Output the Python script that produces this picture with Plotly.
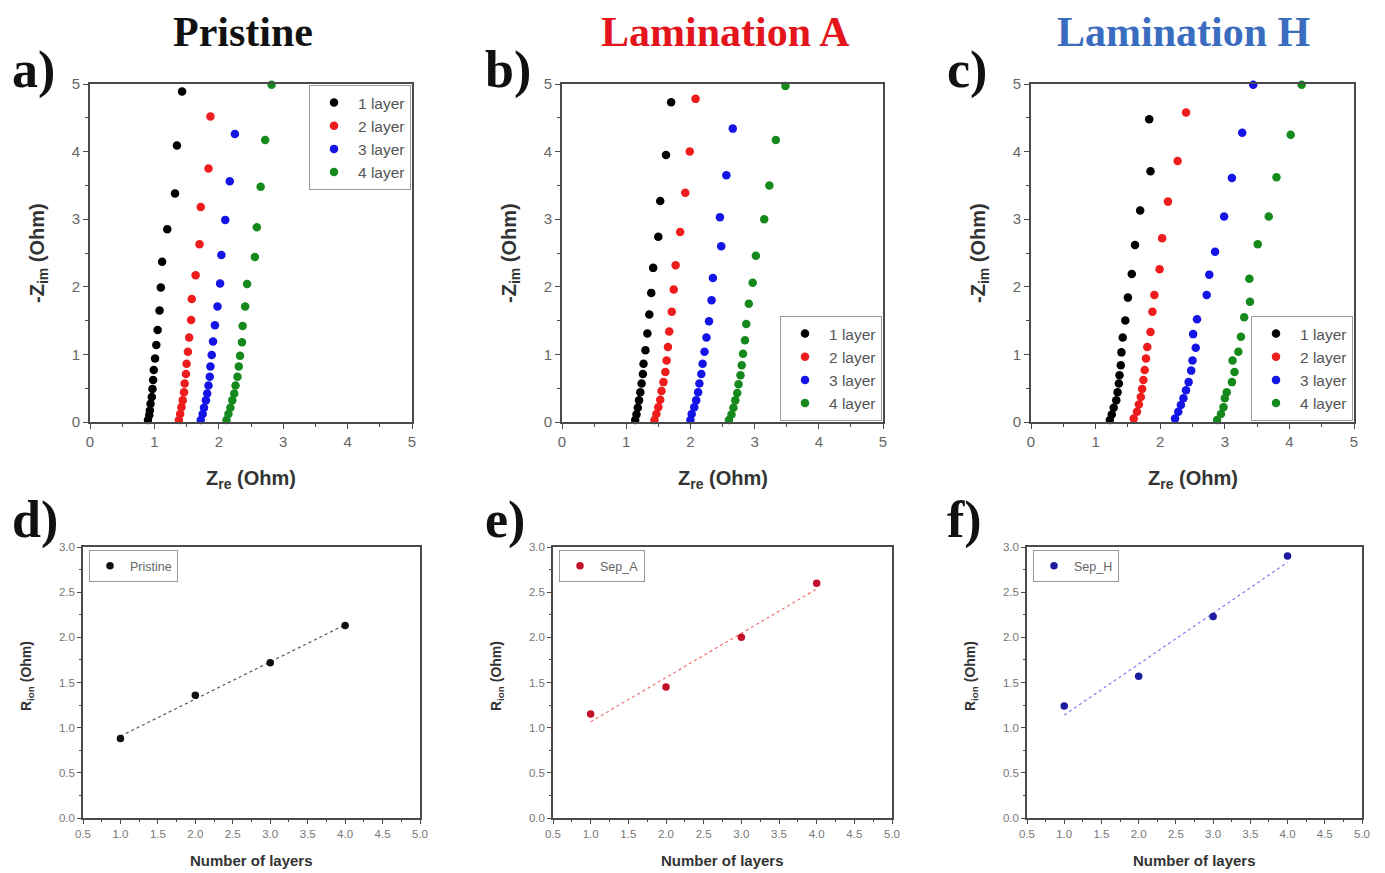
import numpy as np
import plotly.graph_objects as go

# ---------------- data ----------------
LAYER_NAMES = ["1 layer", "2 layer", "3 layer", "4 layer"]
PANEL_TITLES = ["Pristine", "Lamination A", "Lamination H"]

# Panel a) Pristine  (Zre, -Zim)
A1_ZRE = [1.43, 1.35, 1.32, 1.20, 1.12, 1.10, 1.08, 1.05, 1.03, 1.01, 0.99, 0.98, 0.97, 0.96, 0.94, 0.93, 0.92, 0.90]
A1_ZIM = [4.89, 4.09, 3.38, 2.85, 2.37, 1.99, 1.65, 1.36, 1.14, 0.94, 0.77, 0.62, 0.49, 0.37, 0.27, 0.17, 0.10, 0.03]
A2_ZRE = [1.87, 1.84, 1.72, 1.70, 1.64, 1.58, 1.57, 1.54, 1.52, 1.50, 1.49, 1.47, 1.46, 1.44, 1.42, 1.40, 1.38]
A2_ZIM = [4.52, 3.75, 3.18, 2.63, 2.17, 1.82, 1.51, 1.25, 1.04, 0.86, 0.71, 0.57, 0.44, 0.32, 0.22, 0.12, 0.03]
A3_ZRE = [2.25, 2.17, 2.10, 2.04, 2.02, 1.98, 1.94, 1.91, 1.89, 1.87, 1.86, 1.84, 1.82, 1.80, 1.77, 1.75, 1.72]
A3_ZIM = [4.26, 3.56, 2.99, 2.47, 2.05, 1.71, 1.43, 1.19, 0.99, 0.82, 0.67, 0.54, 0.42, 0.32, 0.21, 0.12, 0.03]
A4_ZRE = [2.82, 2.72, 2.65, 2.59, 2.56, 2.44, 2.41, 2.37, 2.36, 2.33, 2.31, 2.29, 2.26, 2.24, 2.21, 2.18, 2.15, 2.12]
A4_ZIM = [4.99, 4.17, 3.48, 2.88, 2.44, 2.04, 1.71, 1.42, 1.18, 0.98, 0.82, 0.67, 0.54, 0.42, 0.32, 0.21, 0.12, 0.03]

# Panel b) Lamination A
B1_ZRE = [1.70, 1.62, 1.53, 1.50, 1.42, 1.39, 1.36, 1.33, 1.30, 1.27, 1.26, 1.24, 1.22, 1.20, 1.18, 1.16, 1.14]
B1_ZIM = [4.73, 3.95, 3.27, 2.74, 2.28, 1.91, 1.59, 1.31, 1.06, 0.86, 0.71, 0.57, 0.44, 0.32, 0.21, 0.11, 0.03]
B2_ZRE = [2.08, 1.99, 1.92, 1.84, 1.77, 1.74, 1.71, 1.67, 1.65, 1.63, 1.61, 1.58, 1.55, 1.53, 1.50, 1.47, 1.44]
B2_ZIM = [4.78, 4.00, 3.39, 2.81, 2.32, 1.96, 1.63, 1.34, 1.11, 0.91, 0.74, 0.59, 0.46, 0.33, 0.22, 0.12, 0.03]
B3_ZRE = [2.66, 2.56, 2.46, 2.48, 2.35, 2.33, 2.29, 2.25, 2.22, 2.19, 2.17, 2.14, 2.12, 2.09, 2.06, 2.02, 2.00]
B3_ZIM = [4.34, 3.65, 3.03, 2.60, 2.13, 1.80, 1.49, 1.25, 1.04, 0.86, 0.71, 0.57, 0.44, 0.32, 0.22, 0.12, 0.03]
B4_ZRE = [3.48, 3.33, 3.23, 3.15, 3.02, 2.97, 2.91, 2.87, 2.85, 2.82, 2.80, 2.78, 2.75, 2.73, 2.70, 2.67, 2.64, 2.60]
B4_ZIM = [4.97, 4.17, 3.50, 3.00, 2.46, 2.06, 1.75, 1.45, 1.21, 1.01, 0.84, 0.69, 0.56, 0.43, 0.32, 0.21, 0.11, 0.03]

# Panel c) Lamination H
C1_ZRE = [1.83, 1.85, 1.69, 1.61, 1.56, 1.50, 1.46, 1.42, 1.40, 1.39, 1.37, 1.36, 1.34, 1.32, 1.28, 1.25, 1.22]
C1_ZIM = [4.48, 3.71, 3.13, 2.62, 2.19, 1.84, 1.50, 1.25, 1.03, 0.84, 0.69, 0.57, 0.44, 0.32, 0.21, 0.11, 0.03]
C2_ZRE = [2.40, 2.27, 2.12, 2.03, 1.99, 1.91, 1.88, 1.85, 1.80, 1.78, 1.76, 1.74, 1.72, 1.70, 1.67, 1.64, 1.59]
C2_ZIM = [4.58, 3.86, 3.26, 2.72, 2.26, 1.88, 1.63, 1.33, 1.11, 0.94, 0.77, 0.62, 0.49, 0.37, 0.26, 0.15, 0.05]
C3_ZRE = [3.44, 3.27, 3.11, 2.99, 2.85, 2.76, 2.72, 2.57, 2.51, 2.55, 2.50, 2.48, 2.44, 2.40, 2.36, 2.32, 2.28, 2.23]
C3_ZIM = [4.99, 4.28, 3.61, 3.04, 2.52, 2.18, 1.88, 1.52, 1.30, 1.10, 0.91, 0.76, 0.59, 0.47, 0.35, 0.25, 0.15, 0.05]
C4_ZRE = [4.19, 4.02, 3.80, 3.68, 3.51, 3.38, 3.39, 3.30, 3.25, 3.21, 3.12, 3.15, 3.11, 3.03, 3.00, 2.98, 2.94, 2.88]
C4_ZIM = [4.99, 4.25, 3.62, 3.04, 2.63, 2.12, 1.78, 1.55, 1.26, 1.04, 0.91, 0.74, 0.59, 0.44, 0.35, 0.22, 0.12, 0.03]

# Bottom panels: R_ion vs number of layers
LAYERS = [1, 2, 3, 4]
R_PRISTINE = [0.88, 1.36, 1.72, 2.13]
R_SEP_A = [1.15, 1.45, 2.00, 2.60]
R_SEP_H = [1.24, 1.57, 2.23, 2.90]
BOTTOM_NAMES = ["Pristine", "Sep_A", "Sep_H"]

# ---------------- styling ----------------
SERIES_COLORS = ["#000000", "#ee1c1c", "#1414e6", "#16891c"]
TITLE_COLORS = ["#111111", "#e3141b", "#3a6cc0"]
BOTTOM_PT_COLORS = ["#111111", "#c4122a", "#1c1c9e"]
BOTTOM_LINE_COLORS = ["#555555", "#f07070", "#7c7cf0"]
AXIS_COL = "#4a4a4a"
TICK_COL = "#666666"
SANS = "Liberation Sans, Arial, sans-serif"
SERIF = "Liberation Serif, Times New Roman, serif"

W, H = 1385, 873
OFF = 8  # page body margin: the figure is drawn 8px right/down of the window corner
def px_x(p):
    return (p - OFF) / W
def px_y(p):
    return 1 - (p - OFF) / H

top_x_dom = [(90, 412), (562, 883), (1031, 1354)]
top_y_dom = (84, 422)
bot_x_dom = [(83, 420), (553, 892), (1027, 1362)]
bot_y_dom = (547, 818)

fig = go.Figure()

top_data = [
    [(A1_ZRE, A1_ZIM), (A2_ZRE, A2_ZIM), (A3_ZRE, A3_ZIM), (A4_ZRE, A4_ZIM)],
    [(B1_ZRE, B1_ZIM), (B2_ZRE, B2_ZIM), (B3_ZRE, B3_ZIM), (B4_ZRE, B4_ZIM)],
    [(C1_ZRE, C1_ZIM), (C2_ZRE, C2_ZIM), (C3_ZRE, C3_ZIM), (C4_ZRE, C4_ZIM)],
]

layout = {}
annotations = []
# top panels: axes 1..3
for p in range(3):
    ax = p + 1
    xa = "x" if ax == 1 else f"x{ax}"
    ya = "y" if ax == 1 else f"y{ax}"
    leg = "legend" if ax == 1 else f"legend{ax}"
    for s, (zre, zim) in enumerate(top_data[p]):
        fig.add_trace(go.Scatter(
            x=zre, y=zim, mode="markers", name=LAYER_NAMES[s],
            marker=dict(color=SERIES_COLORS[s], size=8.5, symbol="circle"),
            xaxis=xa, yaxis=ya, legend=leg, cliponaxis=False,
        ))
    x0, x1 = top_x_dom[p]
    common = dict(showline=True, linecolor=AXIS_COL, linewidth=1.6, mirror=True,
                  ticks="outside", ticklen=5, tickwidth=1.3, tickcolor=AXIS_COL,
                  showgrid=False, zeroline=False, automargin=False,
                  tickfont=dict(family=SANS, size=15, color=TICK_COL),
                  minor=dict(ticks="outside", ticklen=3, tickcolor=AXIS_COL, dtick=0.5, showgrid=False))
    layout[f"xaxis{'' if ax == 1 else ax}"] = dict(
        common, domain=[px_x(x0), px_x(x1)], range=[0, 5], dtick=1, anchor=ya,
    )
    layout[f"yaxis{'' if ax == 1 else ax}"] = dict(
        common, domain=[px_y(top_y_dom[1]), px_y(top_y_dom[0])], range=[0, 5], dtick=1, anchor=xa,
    )
    # axis titles as annotations for precise placement
    annotations.append(dict(
        text="<b>Z<sub>re</sub> (Ohm)</b>", x=px_x((x0 + x1) / 2), y=px_y(479),
        xref="paper", yref="paper", showarrow=False, xanchor="center", yanchor="middle",
        font=dict(family=SANS, size=20, color="#333333"),
    ))
    annotations.append(dict(
        text="<b>-Z<sub>im</sub> (Ohm)</b>", x=px_x(x0 - 52), y=px_y(253),
        xref="paper", yref="paper", showarrow=False, xanchor="center", yanchor="middle",
        textangle=-90, font=dict(family=SANS, size=20, color="#333333"),
    ))
    # legends
    if p == 0:
        leg_pos = dict(y=px_y(85), yanchor="top")
    else:
        leg_pos = dict(y=px_y(421), yanchor="bottom")
    layout[leg] = dict(
        x=px_x(x1 - 1), xanchor="right", **leg_pos,
        bgcolor="white", bordercolor="#999999", borderwidth=1,
        font=dict(family=SANS, size=15.5, color="#555555"),
        itemwidth=38, tracegroupgap=0,
    )

# bottom panels: axes 4..6
bot_data = [R_PRISTINE, R_SEP_A, R_SEP_H]
for p in range(3):
    ax = p + 4
    xa, ya = f"x{ax}", f"y{ax}"
    leg = f"legend{ax}"
    vals = bot_data[p]
    k, b = np.polyfit(LAYERS, vals, 1)
    fx = [LAYERS[0], LAYERS[-1]]
    fig.add_trace(go.Scatter(
        x=fx, y=[k * v + b for v in fx], mode="lines", showlegend=False,
        line=dict(color=BOTTOM_LINE_COLORS[p], width=1.2, dash="dot"),
        xaxis=xa, yaxis=ya, legend=leg, hoverinfo="skip",
    ))
    fig.add_trace(go.Scatter(
        x=LAYERS, y=vals, mode="markers", name=BOTTOM_NAMES[p],
        marker=dict(color=BOTTOM_PT_COLORS[p], size=7.5),
        xaxis=xa, yaxis=ya, legend=leg, cliponaxis=False,
    ))
    x0, x1 = bot_x_dom[p]
    common = dict(showline=True, linecolor=AXIS_COL, linewidth=1.6, mirror=True,
                  ticks="outside", ticklen=4, tickwidth=1.2, tickcolor=AXIS_COL,
                  showgrid=False, zeroline=False, automargin=False,
                  tickfont=dict(family=SANS, size=11.5, color="#777777"),
                  minor=dict(ticks="outside", ticklen=2.5, tickcolor=AXIS_COL, dtick=0.25, showgrid=False))
    layout[f"xaxis{ax}"] = dict(
        common, domain=[px_x(x0), px_x(x1)], range=[0.5, 5.0], dtick=0.5, tick0=0.5, tickformat=".1f", anchor=ya,
    )
    layout[f"yaxis{ax}"] = dict(
        common, domain=[px_y(bot_y_dom[1]), px_y(bot_y_dom[0])], range=[0, 3.0], dtick=0.5, tickformat=".1f", anchor=xa,
    )
    annotations.append(dict(
        text="<b>Number of layers</b>", x=px_x((x0 + x1) / 2), y=px_y(860),
        xref="paper", yref="paper", showarrow=False, xanchor="center", yanchor="middle",
        font=dict(family=SANS, size=15, color="#333333"),
    ))
    annotations.append(dict(
        text="<b>R<sub>ion</sub> (Ohm)</b>", x=px_x(x0 - 56), y=px_y(676),
        xref="paper", yref="paper", showarrow=False, xanchor="center", yanchor="middle",
        textangle=-90, font=dict(family=SANS, size=14, color="#333333"),
    ))
    layout[leg] = dict(
        x=px_x(x0 + 6), y=px_y(550), xanchor="left", yanchor="top",
        bgcolor="white", bordercolor="#999999", borderwidth=1,
        font=dict(family=SANS, size=12.5, color="#666666"),
        itemwidth=30,
    )

title_cx = [243, 725, 1183]
for i, t in enumerate(PANEL_TITLES):
    annotations.append(dict(
        text=f"<b>{t}</b>", x=px_x(title_cx[i]), y=px_y(32), xref="paper", yref="paper",
        showarrow=False, xanchor="center", yanchor="middle",
        font=dict(family=SERIF, size=42, color=TITLE_COLORS[i]),
    ))
letters = [("a)", 10, 70), ("b)", 483, 70), ("c)", 945, 70),
           ("d)", 10, 520), ("e)", 483, 520), ("f)", 945, 520)]
for t, lx, ly in letters:
    annotations.append(dict(
        text=f"<b>{t}</b>", x=px_x(lx), y=px_y(ly), xref="paper", yref="paper",
        showarrow=False, xanchor="left", yanchor="middle",
        font=dict(family=SERIF, size=52, color="#111111"),
    ))

fig.update_layout(
    width=W, height=H,
    margin=dict(l=0, r=0, t=0, b=0, pad=0, autoexpand=False),
    paper_bgcolor="white", plot_bgcolor="white",
    annotations=annotations,
    **layout,
)

fig.write_html("out.html")
